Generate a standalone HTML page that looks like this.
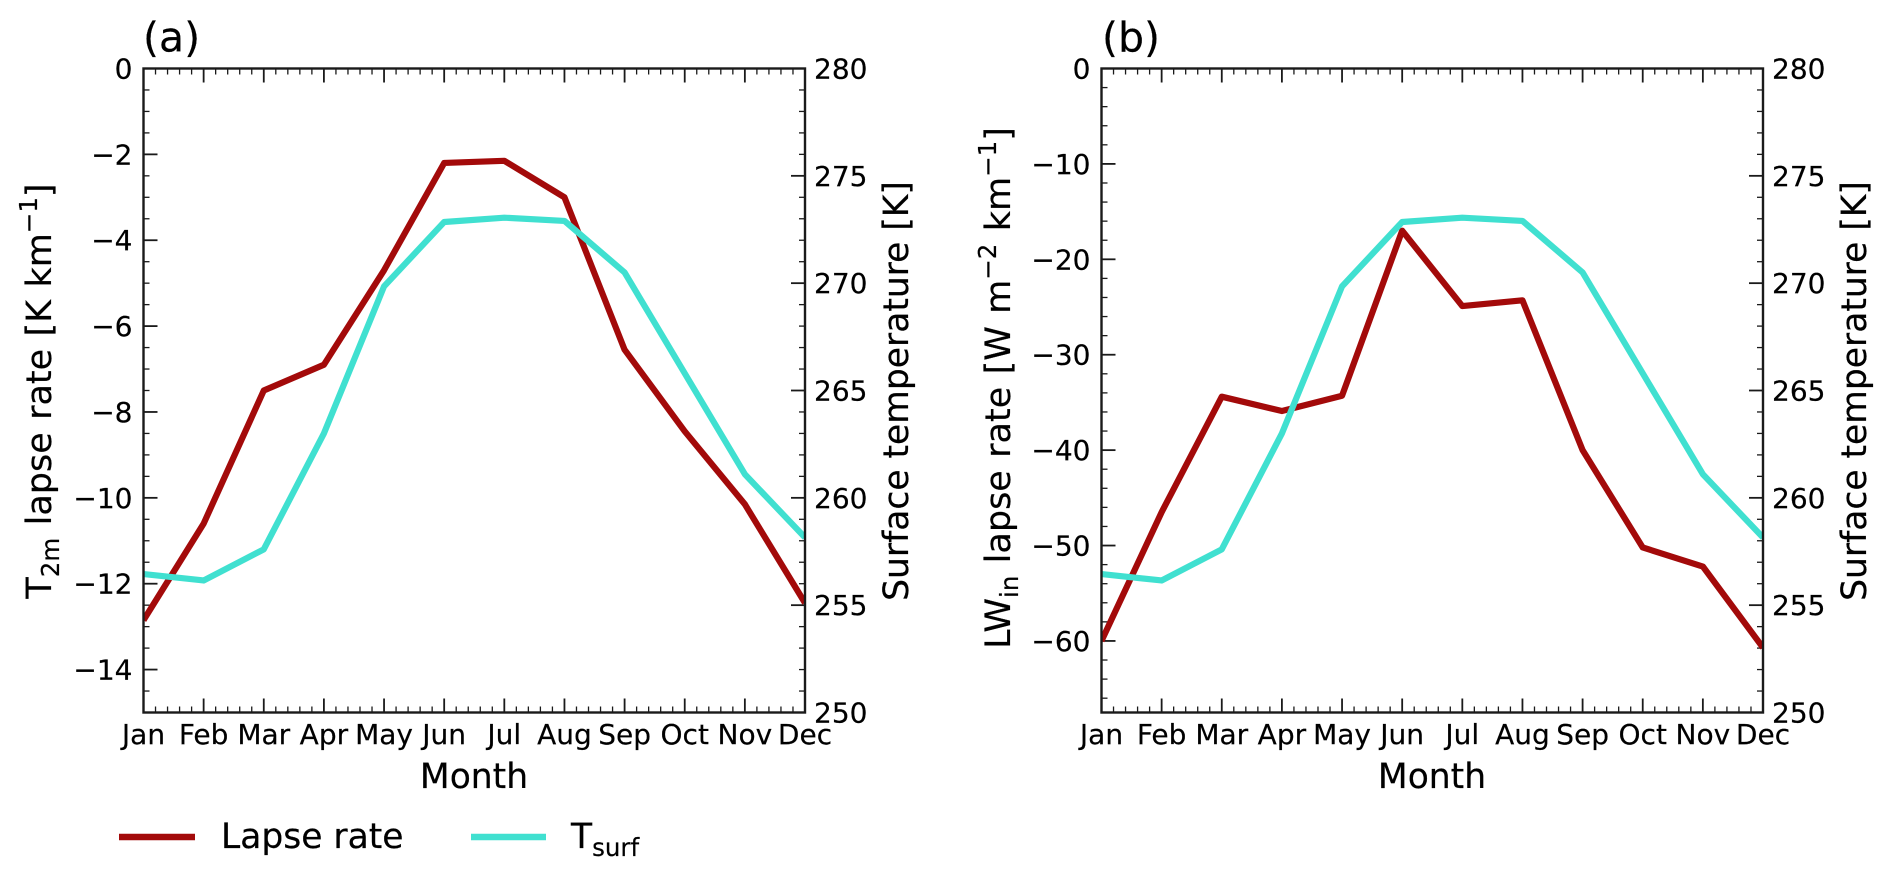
<!DOCTYPE html>
<html lang="en">
<head>
<meta charset="utf-8">
<title>Lapse rate and surface temperature by month</title>
<style>
html,body{margin:0;padding:0;background:#fff;width:1892px;height:875px;overflow:hidden}
svg{display:block}
text{font-family:"DejaVu Sans","Liberation Sans",sans-serif;fill:#000;stroke:#000;stroke-width:.2px}
.tick{font-size:28px}
.title{font-size:34.5px}
.math-title{font-size:35px;word-spacing:1.2px}
.legend-text{font-size:34.5px}
.panel{font-size:41px}
.s{font-size:24.5px}
</style>
</head>
<body>
<svg id="fig" width="1892" height="875" viewBox="0 0 1892 875" xmlns="http://www.w3.org/2000/svg">
  <defs>
    <clipPath id="clip-a"><rect x="143.5" y="68.5" width="661.5" height="644"></rect></clipPath>
    <clipPath id="clip-b"><rect x="1101.5" y="68.5" width="661.5" height="644"></rect></clipPath>
  </defs>

  <g id="panel-a"></g>
  <g id="panel-b"></g>

  <text class="panel" x="143" y="51.5">(a)</text>
  <text class="panel" x="1102" y="51.5">(b)</text>

  <text class="title" x="474" y="788" text-anchor="middle">Month</text>
  <text class="title" x="1432" y="788" text-anchor="middle">Month</text>

  <text class="math-title" transform="translate(51,391) rotate(-90)" text-anchor="middle">T<tspan class="s" dy="8">2m</tspan><tspan dy="-8"> lapse rate [K km</tspan><tspan class="s" dy="-14">−1</tspan><tspan dy="14">]</tspan></text>
  <text class="title" transform="translate(908,391) rotate(-90)" text-anchor="middle">Surface temperature [K]</text>

  <text class="math-title" transform="translate(1010,388) rotate(-90)" text-anchor="middle">LW<tspan class="s" dy="8">in</tspan><tspan dy="-8"> lapse rate [W m</tspan><tspan class="s" dy="-14">−2</tspan><tspan dy="14"> km</tspan><tspan class="s" dy="-14">−1</tspan><tspan dy="14">]</tspan></text>
  <text class="title" transform="translate(1866,391) rotate(-90)" text-anchor="middle">Surface temperature [K]</text>

  <g>
    <line x1="119" y1="837" x2="195" y2="837" stroke="#a30a0a" stroke-width="6.5"></line>
    <text class="legend-text" x="221" y="848">Lapse rate</text>
    <line x1="471" y1="837" x2="546" y2="837" stroke="#40e0d0" stroke-width="6.5"></line>
    <text class="legend-text" x="571" y="848">T<tspan class="s" dy="8">surf</tspan></text>
  </g>
</svg>

<script>
const months = ['Jan','Feb','Mar','Apr','May','Jun','Jul','Aug','Sep','Oct','Nov','Dec'];
const lapseRateT2m = [-12.85,-10.6,-7.5,-6.9,-4.7,-2.2,-2.15,-3.0,-6.55,-8.45,-10.15,-12.45];
const lapseRateLW = [-60,-46.5,-34.4,-35.9,-34.3,-17,-24.9,-24.3,-40,-50.2,-52.2,-60.7];
const surfaceTemp = [256.45,256.15,257.6,263,269.85,272.85,273.05,272.9,270.5,265.8,261.1,258.15];
const leftTicksA = [0,-2,-4,-6,-8,-10,-12,-14];
const leftTicksB = [0,-10,-20,-30,-40,-50,-60];
const rightTicks = [250,255,260,265,270,275,280];

const NS = 'http://www.w3.org/2000/svg';

function mk(parent, tag, attrs, name) {
  const el = document.createElementNS(NS, tag);
  for (const k in attrs) el.setAttribute(k, attrs[k]);
  
  
  parent.appendChild(el);
  return el;
}

function fmt(v) {
  return String(v).replace('-', '\u2212');
}

function drawPanel(cfg) {
  const g = document.getElementById(cfg.id);
  const sx = i => cfg.x0 + (cfg.x1 - cfg.x0) * i / (months.length - 1);
  const sl = v => cfg.y0 + (cfg.y1 - cfg.y0) * (v - cfg.leftMax) / (cfg.leftMin - cfg.leftMax);
  const sr = v => cfg.y0 + (cfg.y1 - cfg.y0) * (cfg.rightMax - v) / (cfg.rightMax - cfg.rightMin);
  const tick = { stroke: '#1a1a1a' };
  const MAJ = 14, MIN = 6;

  // x ticks on the bottom and top spines, with five minor intervals per month
  for (let i = 0; i < months.length; i++) {
    if (i > 0 && i < months.length - 1) {
      for (const [y, d] of [[cfg.y1, -1], [cfg.y0, 1]]) {
        mk(g, 'line', { x1: sx(i), x2: sx(i), y1: y, y2: y + d * MAJ, stroke: tick.stroke, 'stroke-width': 1.8 }, 'x-major-tick');
      }
    }
    mk(g, 'text', { class: 'tick', x: sx(i), y: 744, 'text-anchor': 'middle' }, 'x-tick-label').textContent = months[i];
    if (i < months.length - 1) {
      for (let m = 1; m < 5; m++) {
        const px = sx(i + m / 5);
        for (const [y, d] of [[cfg.y1, -1], [cfg.y0, 1]]) {
          mk(g, 'line', { x1: px, x2: px, y1: y, y2: y + d * MIN, stroke: tick.stroke, 'stroke-width': 1.3 }, 'x-minor-tick');
        }
      }
    }
  }

  // left y axis
  for (const v of cfg.leftTicks) {
    const y = sl(v);
    if (v !== cfg.leftMax) {
      mk(g, 'line', { x1: cfg.x0, x2: cfg.x0 + MAJ, y1: y, y2: y, stroke: tick.stroke, 'stroke-width': 1.8 }, 'left-y-major-tick');
    }
    mk(g, 'text', { class: 'tick', x: cfg.x0 - 11, y: y + 10, 'text-anchor': 'end' }, 'left-y-tick-label').textContent = fmt(v);
  }
  for (let v = cfg.leftMax - cfg.leftMinor; v > cfg.leftMin + 1e-6; v -= cfg.leftMinor) {
    if (cfg.leftTicks.some(t => Math.abs(t - v) < 1e-6)) continue;
    mk(g, 'line', { x1: cfg.x0, x2: cfg.x0 + MIN, y1: sl(v), y2: sl(v), stroke: tick.stroke, 'stroke-width': 1.3 }, 'left-y-minor-tick');
  }

  // right y axis
  for (const v of rightTicks) {
    const y = sr(v);
    if (v !== cfg.rightMin && v !== cfg.rightMax) {
      mk(g, 'line', { x1: cfg.x1, x2: cfg.x1 - MAJ, y1: y, y2: y, stroke: tick.stroke, 'stroke-width': 1.8 }, 'right-y-major-tick');
    }
    mk(g, 'text', { class: 'tick', x: cfg.x1 + 9, y: y + 10 }, 'right-y-tick-label').textContent = fmt(v);
  }
  for (let v = cfg.rightMin + 1; v < cfg.rightMax; v += 1) {
    if (rightTicks.includes(v)) continue;
    mk(g, 'line', { x1: cfg.x1, x2: cfg.x1 - MIN, y1: sr(v), y2: sr(v), stroke: tick.stroke, 'stroke-width': 1.3 }, 'right-y-minor-tick');
  }

  // series
  const lapsePts = cfg.lapse.map((v, i) => sx(i) + ',' + sl(v)).join(' ');
  const tsurfPts = surfaceTemp.map((v, i) => sx(i) + ',' + sr(v)).join(' ');
  mk(g, 'polyline', { points: lapsePts, fill: 'none', stroke: '#a30a0a', 'stroke-width': 6.2, 'stroke-linejoin': 'round', 'clip-path': 'url(#' + cfg.clip + ')' }, 'lapse-rate-line');
  mk(g, 'polyline', { points: tsurfPts, fill: 'none', stroke: '#40e0d0', 'stroke-width': 6.2, 'stroke-linejoin': 'round', 'clip-path': 'url(#' + cfg.clip + ')' }, 'tsurf-line');

  // spines
  mk(g, 'rect', { x: cfg.x0, y: cfg.y0, width: cfg.x1 - cfg.x0, height: cfg.y1 - cfg.y0, fill: 'none', stroke: '#1a1a1a', 'stroke-width': 2.4 }, 'axes-frame');
}

drawPanel({ id: 'panel-a', clip: 'clip-a', x0: 143.5, x1: 805, y0: 68.5, y1: 712.5,
  leftMin: -15, leftMax: 0, leftMinor: 0.5, leftTicks: leftTicksA, rightMin: 250, rightMax: 280, lapse: lapseRateT2m });
drawPanel({ id: 'panel-b', clip: 'clip-b', x0: 1101.5, x1: 1763, y0: 68.5, y1: 712.5,
  leftMin: -67.5, leftMax: 0, leftMinor: 2, leftTicks: leftTicksB, rightMin: 250, rightMax: 280, lapse: lapseRateLW });
</script>
</body>
</html>
